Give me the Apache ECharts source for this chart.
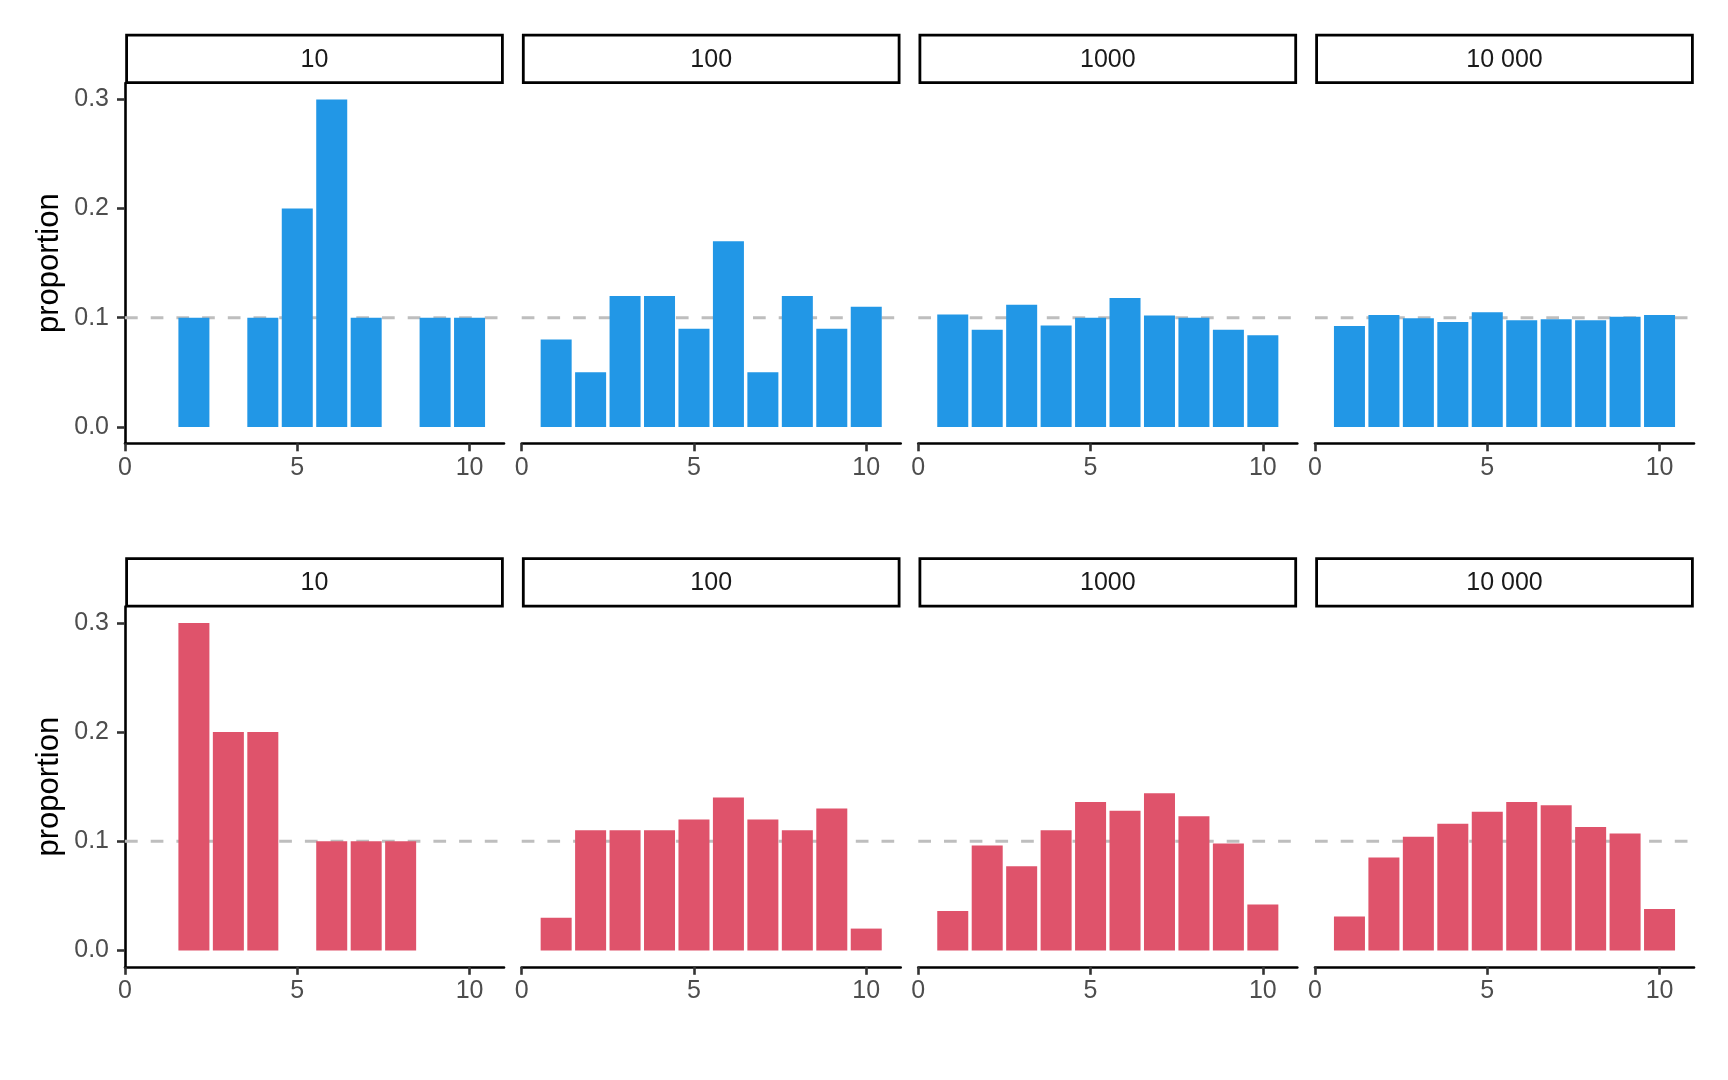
<!DOCTYPE html>
<html>
<head>
<meta charset="utf-8">
<script src="https://cdn.jsdelivr.net/npm/echarts@6/dist/echarts.min.js"></script>
<style>
html,body{margin:0;padding:0;background:#fff;}
#chart{width:1728px;height:1080px;}
</style>
</head>
<body>
<div id="chart"></div>
<script>
// ---- data ----
const outcomes = [1, 2, 3, 4, 5, 6, 7, 8, 9, 10];
const sampleSizes = ['10', '100', '1000', '10 000'];
const yTicks = [0, 0.1, 0.2, 0.3];
const xTicks = [0, 5, 10];
const referenceLevel = 0.1;

// top row (blue)
const blueN10    = [0, 0.1, 0, 0.1, 0.2, 0.3, 0.1, 0, 0.1, 0.1];
const blueN100   = [0.08, 0.05, 0.12, 0.12, 0.09, 0.17, 0.05, 0.12, 0.09, 0.11];
const blueN1000  = [0.103, 0.089, 0.112, 0.093, 0.100, 0.118, 0.102, 0.100, 0.089, 0.084];
const blueN10000 = [0.0925, 0.1025, 0.0995, 0.096, 0.105, 0.0978, 0.0987, 0.0978, 0.1009, 0.1024];

// bottom row (red)
const redN10    = [0, 0.3, 0.2, 0.2, 0, 0.1, 0.1, 0.1, 0, 0];
const redN100   = [0.03, 0.11, 0.11, 0.11, 0.12, 0.14, 0.12, 0.11, 0.13, 0.02];
const redN1000  = [0.036, 0.096, 0.077, 0.110, 0.136, 0.128, 0.144, 0.123, 0.098, 0.042];
const redN10000 = [0.031, 0.085, 0.104, 0.116, 0.127, 0.136, 0.133, 0.113, 0.107, 0.038];

const rows = [
  { color: '#2297E6', values: [blueN10, blueN100, blueN1000, blueN10000] },
  { color: '#DF536B', values: [redN10, redN100, redN1000, redN10000] }
];

// ---- layout ----
const FONT = '"Liberation Sans", Arial, Helvetica, sans-serif';
const panelLeft = [125, 521.7, 918.3, 1315];
const panelWidth = 379;
const rowTop = [83, 606.5];
const plotHeight = 360.3;
const stripHeight = 47.5;
const xMin = 0, xMax = 11;
const yMin = -0.015, yMax = 0.315;
const barWidth = panelWidth / (xMax - xMin) * 0.9;

const grids = [], xAxes = [], yAxes = [], series = [], graphics = [];
let gi = 0;
rows.forEach((row, r) => {
  row.values.forEach((vals, c) => {
    grids.push({ left: panelLeft[c], top: rowTop[r], width: panelWidth, height: plotHeight, containLabel: false });
    xAxes.push({
      gridIndex: gi, type: 'value', min: xMin, max: xMax,
      axisLine: { show: true, onZero: false, lineStyle: { color: '#000', width: 2.6 } },
      axisTick: { show: true, length: 8, customValues: xTicks, lineStyle: { color: '#333', width: 2.6 } },
      axisLabel: { show: true, customValues: xTicks, color: '#4d4d4d', fontSize: 25, fontFamily: FONT, margin: 12 },
      splitLine: { show: false }
    });
    const showY = c === 0;
    yAxes.push({
      gridIndex: gi, type: 'value', min: yMin, max: yMax,
      show: showY,
      name: showY ? 'proportion' : '',
      nameLocation: 'middle', nameGap: 60, nameRotate: 90,
      nameTextStyle: { color: '#000', fontSize: 31, fontFamily: FONT },
      axisLine: { show: true, onZero: false, lineStyle: { color: '#000', width: 2.6 } },
      axisTick: { show: true, length: 8, customValues: yTicks, lineStyle: { color: '#333', width: 2.6 } },
      axisLabel: { show: true, customValues: yTicks, color: '#4d4d4d', fontSize: 25, fontFamily: FONT, margin: 16,
        formatter: v => Number(v).toFixed(1) },
      splitLine: { show: false }
    });
    series.push({
      type: 'line', xAxisIndex: gi, yAxisIndex: gi, silent: true, z: 1,
      data: [[xMin, referenceLevel], [xMax, referenceLevel]],
      symbol: 'none', animation: false,
      lineStyle: { color: '#bebebe', width: 2.8, type: [12.7, 13] }
    });
    series.push({
      type: 'bar', xAxisIndex: gi, yAxisIndex: gi, z: 2, animation: false,
      barWidth: barWidth,
      data: outcomes.map((x, i) => [x, vals[i]]),
      itemStyle: { color: row.color }
    });
    // facet strip
    graphics.push({
      type: 'rect', silent: true,
      shape: { x: panelLeft[c] + 1.6, y: rowTop[r] - stripHeight - 0.3, width: panelWidth - 3.2, height: stripHeight },
      style: { fill: '#fff', stroke: '#000', lineWidth: 2.8 }
    });
    graphics.push({
      type: 'text', silent: true,
      style: { text: sampleSizes[c], x: panelLeft[c] + panelWidth / 2, y: rowTop[r] - stripHeight / 2 + 0.5,
        align: 'center', verticalAlign: 'middle', fontSize: 25, fontFamily: FONT, fill: '#1a1a1a' }
    });
    gi++;
  });
});

const chart = echarts.init(document.getElementById('chart'), null, { renderer: 'canvas' });
chart.setOption({
  backgroundColor: '#fff',
  animation: false,
  grid: grids,
  xAxis: xAxes,
  yAxis: yAxes,
  series: series,
  graphic: { elements: graphics }
});
</script>
</body>
</html>
